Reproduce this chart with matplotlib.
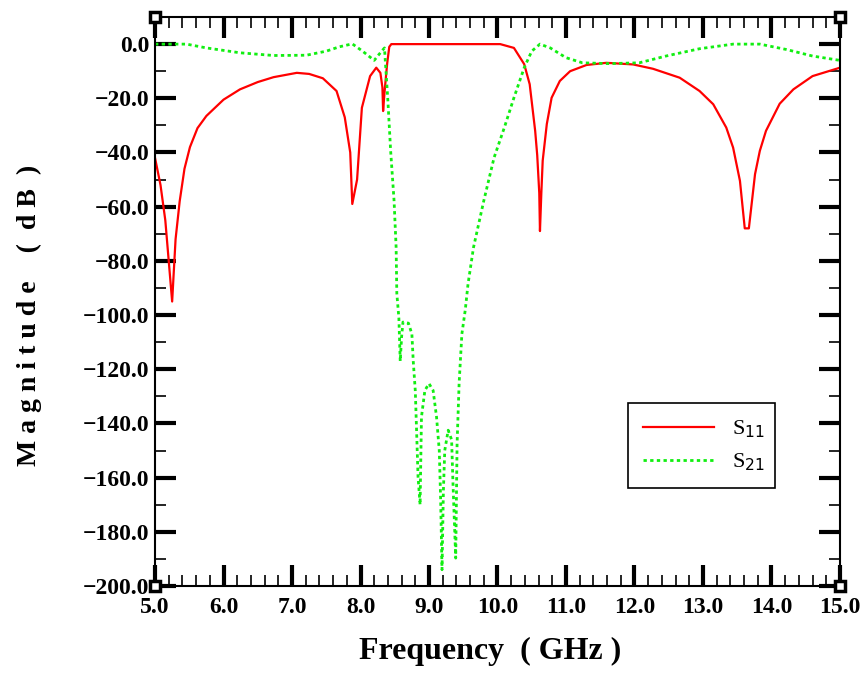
import numpy as np
import matplotlib
matplotlib.use("Agg")
import matplotlib.pyplot as plt
from matplotlib.ticker import MultipleLocator, FuncFormatter

# S11
f_s11 = [5.00, 5.08, 5.15, 5.20, 5.25, 5.30, 5.36, 5.43, 5.51, 5.62, 5.75, 6.00,
         6.24, 6.50, 6.73, 7.07, 7.25, 7.45, 7.65, 7.77, 7.85, 7.88, 7.95, 8.02,
         8.14, 8.23, 8.29, 8.32, 8.33, 8.35, 8.37, 8.39, 8.42, 8.45, 10.04, 10.24,
         10.39, 10.47, 10.55, 10.58, 10.61, 10.62, 10.64, 10.66, 10.72, 10.79, 10.91,
         11.06, 11.30, 11.59, 11.98, 12.27, 12.66, 12.95, 13.15, 13.34, 13.44, 13.54,
         13.61, 13.67, 13.76, 13.83, 13.92, 14.12, 14.32, 14.60, 15.00]
s11 = [-42, -52, -65, -80, -95, -72, -58, -46, -38, -31, -26.5, -20.5,
       -16.7, -14, -12.2, -10.6, -11, -12.6, -17.3, -27, -40, -59, -50, -23.5,
       -11.8, -8.7, -10.6, -16, -24.7, -18, -12.4, -7, -1, 0, 0, -1.4,
       -7.4, -14.8, -32, -41, -55, -69, -55, -43, -29.5, -19.8, -13.6,
       -10, -7.7, -6.9, -7.5, -9.1, -12.4, -17.3, -22.2, -30.8, -38.2, -50.5,
       -68, -68, -48, -39.4, -32, -22, -16.7, -11.8, -8.7]

# S21
f_s21 = [5.00, 5.46, 5.75, 6.24, 6.73, 7.21, 7.50, 7.69, 7.88, 8.03, 8.20, 8.27,
         8.35, 8.40, 8.44, 8.49, 8.52, 8.53, 8.56, 8.58, 8.60, 8.62, 8.70, 8.75,
         8.77, 8.80, 8.82, 8.84, 8.87, 8.89, 8.94, 9.00, 9.06, 9.11, 9.15, 9.17,
         9.19, 9.21, 9.23, 9.28, 9.33, 9.35, 9.39, 9.41, 9.44, 9.48, 9.53, 9.57,
         9.65, 9.80, 9.95, 10.10, 10.24, 10.39, 10.50, 10.62, 10.77, 11.00, 11.24,
         11.63, 12.07, 12.46, 12.95, 13.44, 13.83, 14.22, 14.60, 15.00]
s21 = [0, 0, -1.4, -3.2, -4.2, -4.1, -2.6, -1, 0.1, -2.6, -6, -3.8,
       -1.4, -21, -39.4, -57.8, -75, -92, -101, -117, -108, -102.6, -103, -107,
       -117, -128, -143.7, -159.7, -170, -137.6, -127.8, -125.3, -127.8, -137.6, -150, -168,
       -194, -165, -150, -142.5, -146, -162, -189.7, -147.5, -125, -107, -98, -88.5,
       -75, -57.8, -41.9, -30.8, -19.8, -8.7, -2.6, 0, -1.4, -5, -6.9,
       -7.2, -6.9, -4.4, -1.7, 0, 0, -2, -4.4, -6]

fig = plt.figure(figsize=(8.68, 6.81), dpi=100)
ax = fig.add_axes([0.1786, 0.1395, 0.7891, 0.8355])

ax.plot(f_s11, s11, color='#ff0000', lw=1.6, label='S$_{11}$')
ax.plot(f_s21, s21, color='#11ee11', lw=2.0, linestyle=(0, (1.2, 1.2)), label='S$_{21}$')

ax.set_xlim(5, 15)
ax.set_ylim(-200, 10)
ax.xaxis.set_major_locator(MultipleLocator(1))
ax.xaxis.set_minor_locator(MultipleLocator(0.2))
ax.yaxis.set_major_locator(MultipleLocator(20))
ax.yaxis.set_minor_locator(MultipleLocator(10))
fmt = FuncFormatter(lambda v, p: ('%.1f' % v).replace('-', '\u2212'))
ax.xaxis.set_major_formatter(fmt)
ax.yaxis.set_major_formatter(fmt)
ax.tick_params(which='both', direction='in', top=True, right=True)
ax.tick_params(which='major', length=15, width=3)
ax.tick_params(which='minor', length=8, width=1.2)
ax.tick_params(axis='x', labelsize=17, pad=8)
ax.tick_params(axis='y', labelsize=17, pad=4)
for lab in ax.get_xticklabels() + ax.get_yticklabels():
    lab.set_family('Liberation Serif')
    lab.set_fontweight('bold')
for sp in ax.spines.values():
    sp.set_linewidth(1.5)

ax.set_xlabel('Frequency  ( GHz )', family='Liberation Serif', fontweight='bold',
              fontsize=23)
ax.set_ylabel('M a g n i t u d e    (  d B  )', family='Liberation Serif',
              fontweight='bold', fontsize=20)
ax.xaxis.set_label_coords(0.489, -0.09)
ax.yaxis.set_label_coords(-0.165, 0.476)

# corner marks
ax.plot([0, 1, 0, 1], [0, 0, 1, 1], 's', transform=ax.transAxes, clip_on=False,
        ms=7, mfc='white', mec='black', mew=2.5, zorder=5)

leg = ax.legend(loc='upper left', bbox_to_anchor=(0.69, 0.3216, 0.2146, 0.0),
                mode='expand', borderaxespad=0, fancybox=False, shadow=False,
                edgecolor='black', framealpha=1, handlelength=3.2, borderpad=0.7,
                labelspacing=0.5, prop={'family': 'Liberation Serif', 'size': 16})
leg.get_frame().set_linewidth(1.2)

fig.savefig('out.png', dpi=100)
